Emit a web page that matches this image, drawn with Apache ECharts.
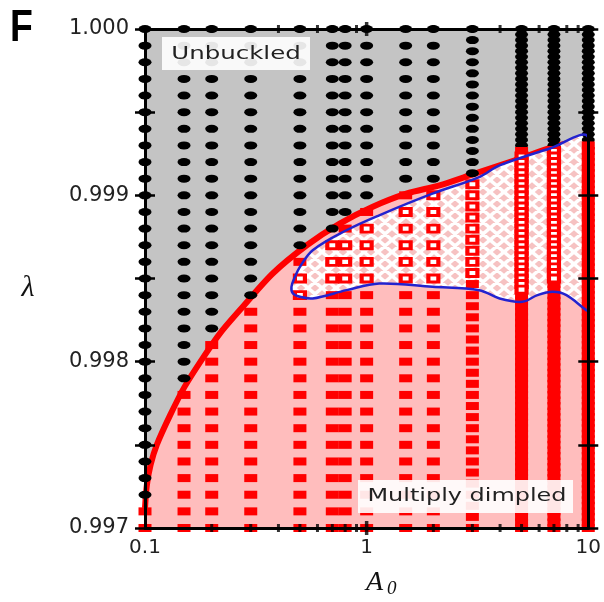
<!DOCTYPE html>
<html><head><meta charset="utf-8">
<script src="https://cdn.jsdelivr.net/npm/echarts@6/dist/echarts.min.js"></script>
<style>html,body{margin:0;padding:0;background:#fff}#c{width:604px;height:602px}</style>
</head><body><div id="c"></div>
<script>
// ---------- data ----------
// sampled A0 columns
const columnA0 = [0.1, 0.15, 0.2, 0.3, 0.5, 0.7, 0.8, 1, 1.5, 2, 3, 5, 7, 10];
// lambda sampling density of each column (samples per 0.001 of lambda)
const rowsPerMilli = [10, 10, 10, 10, 10, 10, 10, 10, 10, 10, 15, 30, 30, 30];
// lowest lambda at which the column is still unbuckled (black)
const lowestUnbuckled = [0.9972, 0.9979, 0.9982, 0.9984, 0.9987, 0.9988, 0.9989, 0.9990, 0.9991, 0.9991, 0.99913, 0.99927, 0.99930, 0.99933];
// hollow (hatched region) lambda range per column
const hollowTop    = [null, null, null, null, 0.9985, 0.9987, 0.9987, 0.9988, 0.9989, 0.9990, 0.99907, 0.99924, 0.99927, null];
const hollowBottom = [null, null, null, null, 0.9984, 0.9985, 0.9985, 0.9985, 0.9985, 0.9985, 0.99847, 0.99843, 0.99847, null];
// red boundary curve
const boundaryA0     = [0.1, 0.102, 0.106, 0.113, 0.13, 0.151, 0.182, 0.218, 0.268, 0.377, 0.537, 0.756, 1.06, 1.51, 2.13, 2.91, 4.89, 6.89, 10];
const boundaryLambda = [0.99712, 0.99726, 0.99738, 0.9975, 0.99768, 0.99785, 0.99802, 0.99817, 0.99831, 0.99853, 0.9987, 0.99883, 0.99893, 0.99901, 0.99906, 0.99912, 0.99922, 0.99929, 0.99934];
// blue outlined region (closed)
const regionA0     = [0.458, 0.475, 0.5, 0.571, 0.811, 1.14, 1.98, 3.22, 3.98, 6.66, 10, 10, 10, 9.8, 7.97, 6.9, 5.9, 5.04, 3.98, 3.22, 1.98, 1.14, 0.811, 0.571, 0.5, 0.465];
const regionLambda = [0.99845, 0.99851, 0.99857, 0.99867, 0.99879, 0.99888, 0.99901, 0.99911, 0.99918, 0.99928, 0.99935, 0.9988, 0.99831, 0.99831, 0.9984, 0.99842, 0.9984, 0.99836, 0.99838, 0.99843, 0.99845, 0.99847, 0.99843, 0.99838, 0.99839, 0.99841];
// x axis minor ticks
const xMinorTicks = [0.2, 0.3, 0.4, 0.5, 0.6, 0.7, 0.8, 0.9, 2, 3, 4, 5, 6, 7, 8, 9];
const xMajorTicks = [1];
const lambdaMin = 0.997, lambdaMax = 1.0;
const yLabels = ['0.997', '0.998', '0.999', '1.000'];

// ---------- build point sets ----------
const blackPts = [], solidPts = [], hollowPts = [];
columnA0.forEach((a, i) => {
  const n = rowsPerMilli[i];
  for (let k = 0; k <= 3 * n; k++) {
    const lam = +(1 - k / (1000 * n)).toFixed(7);
    if (lam >= lowestUnbuckled[i] - 1e-7) blackPts.push([a, lam]);
    else if (hollowTop[i] != null && lam <= hollowTop[i] + 1e-7 && lam >= hollowBottom[i] - 1e-7) hollowPts.push([a, lam]);
    else solidPts.push([a, lam]);
  }
});
const tickPts = [], majorTickPts = [];
xMinorTicks.forEach(x => { tickPts.push([x, lambdaMin]); tickPts.push([x, lambdaMax]); });
xMajorTicks.forEach(x => { majorTickPts.push([x, lambdaMin]); majorTickPts.push([x, lambdaMax]); });

function makeHatch() {
  const c = document.createElement('canvas');
  const w = 14, h = 12;
  c.width = w; c.height = h;
  const g = c.getContext('2d');
  g.fillStyle = '#f6c2c2'; g.fillRect(0, 0, w, h);
  g.strokeStyle = '#ffffff'; g.lineWidth = 3.6;
  g.beginPath();
  [-w, 0, w].forEach(dx => { g.moveTo(dx, 0); g.lineTo(dx + w, h); g.moveTo(dx + w, 0); g.lineTo(dx, h); });
  g.stroke();
  return c;
}
const hatch = { image: makeHatch(), repeat: 'repeat' };

const ellipse = 'path://M0,1A1,1,0,1,1,2,1A1,1,0,1,1,0,1Z';
const FONT = '"DejaVu Sans", sans-serif';

function regionItem(fill, stroke, lw) {
  return function (params, api) {
    const pts = regionA0.map((x, i) => api.coord([x, regionLambda[i]]));
    const lo = api.coord([0.1, lambdaMax]);
    const hi = api.coord([10, lambdaMin]);
    return { type: 'polygon', shape: { points: pts, smooth: 0.35, smoothConstraint: [lo, hi] },
      style: { fill: fill, stroke: stroke, lineWidth: lw } };
  };
}

const yBase = { type: 'value', min: lambdaMin, max: lambdaMax, interval: 0.0005, splitLine: { show: false }, z: 6 };
const chart = echarts.init(document.getElementById('c'), null, { renderer: 'canvas' });
chart.setOption({
  animation: false,
  backgroundColor: '#ffffff',
  grid: { left: 145, right: 14, top: 29, bottom: 74, show: true, backgroundColor: '#c4c4c4', borderWidth: 0 },
  xAxis: [
    { type: 'log', logBase: 10, min: 0.1, max: 10, position: 'bottom', z: 6,
      axisLine: { show: true, lineStyle: { color: '#000', width: 3 } },
      axisTick: { show: false }, splitLine: { show: false }, minorTick: { show: false },
      axisLabel: { fontSize: 20, fontFamily: FONT, color: '#222', margin: 10 } },
    { type: 'log', logBase: 10, min: 0.1, max: 10, position: 'top', z: 6,
      axisLine: { show: true, lineStyle: { color: '#000', width: 3 } },
      axisTick: { show: false }, splitLine: { show: false }, axisLabel: { show: false } }
  ],
  yAxis: [
    Object.assign({}, yBase, { position: 'left',
      axisLine: { show: true, lineStyle: { color: '#000', width: 3 } },
      axisTick: { show: true, inside: false, length: 10, lineStyle: { color: '#000', width: 2.5 } },
      axisLabel: { fontSize: 21, fontFamily: FONT, color: '#222', margin: 16,
        formatter: v => { const s = v.toFixed(3); return (Math.abs(v * 1000 - Math.round(v * 1000)) < 1e-6 && yLabels.indexOf(s) >= 0) ? s : ''; } } }),
    Object.assign({}, yBase, { position: 'left', axisLine: { show: false },
      axisTick: { show: true, inside: true, length: 10, lineStyle: { color: '#000', width: 2.5 } },
      axisLabel: { show: false } }),
    Object.assign({}, yBase, { position: 'right',
      axisLine: { show: true, lineStyle: { color: '#000', width: 3 } },
      axisTick: { show: true, inside: false, length: 10, lineStyle: { color: '#000', width: 2.5 } },
      axisLabel: { show: false } }),
    Object.assign({}, yBase, { position: 'right', axisLine: { show: false },
      axisTick: { show: true, inside: true, length: 10, lineStyle: { color: '#000', width: 2.5 } },
      axisLabel: { show: false } })
  ],
  series: [
    { type: 'line', name: 'boundary', data: boundaryA0.map((x, i) => [x, boundaryLambda[i]]),
      smooth: 0.3, symbol: 'none', z: 1, silent: true,
      lineStyle: { color: '#ff0000', width: 6 },
      areaStyle: { color: '#ffbdbd', opacity: 1, origin: 'start' } },
    { type: 'custom', name: 'regionFill', coordinateSystem: 'cartesian2d', z: 2, silent: true,
      data: [[regionA0[0], regionLambda[0]]], renderItem: regionItem(hatch, null, 0) },
    { type: 'scatter', name: 'unbuckled', data: blackPts, symbol: ellipse, symbolSize: [13, 8], z: 3,
      clip: false, silent: true, itemStyle: { color: '#000', opacity: 1 } },
    { type: 'scatter', name: 'dimpled', data: solidPts, symbol: 'rect', symbolSize: [13, 8], z: 3,
      clip: false, silent: true, itemStyle: { color: '#ff0000', opacity: 1 } },
    { type: 'scatter', name: 'dimpledHollow', data: hollowPts, symbol: 'rect', symbolSize: [10, 7], z: 3,
      clip: false, silent: true, itemStyle: { color: '#ffffff', borderColor: '#ff0000', borderWidth: 3.5, opacity: 1 } },
    { type: 'custom', name: 'regionLine', coordinateSystem: 'cartesian2d', z: 4, silent: true,
      data: [[regionA0[0], regionLambda[0]]], renderItem: regionItem(null, '#2323cf', 2.5) },
    { type: 'scatter', name: 'minorTicks', data: tickPts, symbol: 'rect', symbolSize: [3, 8], z: 7,
      clip: false, silent: true, itemStyle: { color: '#000' } },
    { type: 'scatter', name: 'majorTicks', data: majorTickPts, symbol: 'rect', symbolSize: [3.5, 14], z: 7,
      clip: false, silent: true, itemStyle: { color: '#000' } }
  ],
  graphic: [
    { type: 'text', x: 10, y: 7, scaleX: 0.85, z: 10,
      style: { text: 'F', font: 'bold 44px "Liberation Sans", sans-serif', fill: '#000' } },
    { type: 'text', x: 28, y: 288, z: 10,
      style: { text: 'λ', font: 'italic 30px "Liberation Serif", serif', fill: '#111', textAlign: 'center', textVerticalAlign: 'middle' } },
    { type: 'text', x: 366, y: 569, z: 10,
      style: { text: 'A', font: 'italic 28px "Liberation Serif", serif', fill: '#111' } },
    { type: 'text', x: 387, y: 579, z: 10,
      style: { text: '0', font: 'italic 19px "Liberation Serif", serif', fill: '#111' } },
    { type: 'rect', z: 10, shape: { x: 162, y: 37, width: 148, height: 33 }, style: { fill: 'rgba(255,255,255,0.9)' } },
    { type: 'text', x: 236, y: 54, scaleX: 1.36, z: 11,
      style: { text: 'Unbuckled', font: '18px ' + FONT, fill: '#222', textAlign: 'center', textVerticalAlign: 'middle' } },
    { type: 'rect', z: 10, shape: { x: 358, y: 480, width: 215, height: 33 }, style: { fill: 'rgba(255,255,255,0.9)' } },
    { type: 'text', x: 467, y: 496, scaleX: 1.33, z: 11,
      style: { text: 'Multiply dimpled', font: '18px ' + FONT, fill: '#222', textAlign: 'center', textVerticalAlign: 'middle' } }
  ]
});
</script></body></html>
